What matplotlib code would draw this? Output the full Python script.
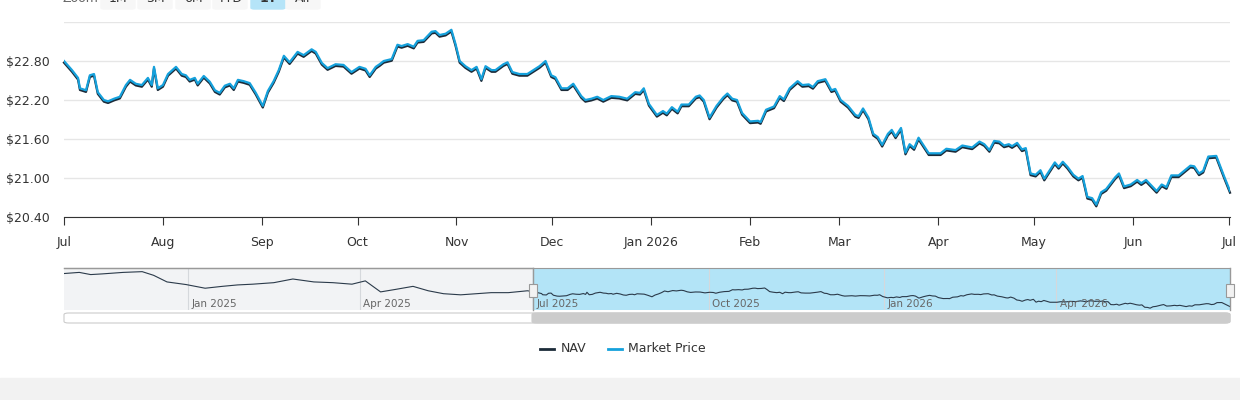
import matplotlib
matplotlib.use("Agg")
import matplotlib.pyplot as plt
import matplotlib.dates as mdates
import matplotlib.transforms as mtrans
from matplotlib.patches import Rectangle, FancyBboxPatch
import pandas as pd
import numpy as np

start = pd.Timestamp("2025-07-01")
# days since 2025-07-01 and values
days = [0,2.5,4.4,5.0,6.9,8.1,9.4,10.6,12.5,13.8,15.7,17.5,19.4,20.7,22.5,24.4,26.3,27.5,28.2,29.4,31.0,32.6,35.1,36.9,38.2,39.4,41.0,41.9,43.8,45.7,47.3,48.8,50.4,52.0,53.2,54.5,56.3,58.2,60.1,62.3,63.9,65.7,67.3,68.9,70.7,73.2,75.1,77.6,78.9,80.8,82.6,85.1,87.6,90.1,92.6,94.5,95.8,97.7,98.9,100.2,102.7,104.5,105.8,107.7,109.6,110.8,112.7,115.2,116.4,117.7,119.6,121.4,122.7,124.0,125.8,127.7,129.3,130.8,132.1,134.0,135.2,137.7,139.0,140.5,142.7,145.2,147.1,149.0,150.9,152.7,154.0,155.9,157.8,159.6,162.1,163.4,165.3,167.1,169.0,171.5,
        174.0,176.5,179.0,180.5,181.7,183.3,185.8,187.7,188.9,190.5,192.3,193.5,195.8,198.0,199.2,200.5,202.3,204.5,206.6,207.9,209.4,210.9,212.5,215.0,217.5,218.3,220.0,222.5,224.3,225.6,227.4,229.9,231.4,233.4,234.7,236.2,238.6,240.5,241.7,243.4,245.7,248.0,249.0,250.4,252.1,253.6,255.0,256.4,258.2,259.4,260.6,262.3,263.7,265.0,266.4,267.8,271.0,274.7,276.5,279.4,281.5,284.6,286.9,288.4,290.0,291.5,293.1,294.6,296.1,297.1,298.7,300.2,301.4,302.9,304.5,306.0,307.2,310.5,311.7,313.0,314.5,316.3,317.9,319.2,320.7,322.2,323.5,325.0,326.6,329.4,330.6,332.2,334.3,336.3,337.6,339.1,342.4,344.0,345.5,347.0,349.3,353.0,354.2,355.7,357.0,358.6,361.1,363.6,365.4]
market_price = [22.80,22.66,22.54,22.38,22.35,22.58,22.60,22.32,22.20,22.18,22.22,22.25,22.43,22.51,22.45,22.43,22.54,22.43,22.71,22.38,22.43,22.60,22.71,22.60,22.58,22.51,22.54,22.45,22.57,22.48,22.35,22.31,22.42,22.45,22.38,22.51,22.49,22.46,22.31,22.11,22.34,22.49,22.66,22.88,22.78,22.94,22.89,22.98,22.94,22.77,22.69,22.75,22.74,22.63,22.71,22.68,22.58,22.71,22.75,22.80,22.83,23.05,23.03,23.06,23.02,23.11,23.12,23.25,23.26,23.20,23.22,23.28,23.06,22.80,22.72,22.66,22.71,22.52,22.72,22.66,22.66,22.75,22.78,22.63,22.60,22.60,22.66,22.72,22.80,22.58,22.55,22.38,22.38,22.45,22.26,22.20,22.22,22.25,22.20,22.26,
                22.25,22.22,22.32,22.31,22.38,22.14,21.97,22.03,21.99,22.09,22.02,22.13,22.13,22.25,22.27,22.20,21.93,22.11,22.24,22.30,22.22,22.20,22.00,21.87,21.88,21.86,22.05,22.10,22.26,22.21,22.38,22.49,22.43,22.44,22.40,22.49,22.52,22.35,22.37,22.20,22.11,21.97,21.95,22.07,21.93,21.68,21.63,21.51,21.68,21.74,21.64,21.77,21.39,21.52,21.46,21.62,21.38,21.38,21.45,21.43,21.50,21.47,21.56,21.52,21.43,21.57,21.56,21.50,21.52,21.49,21.54,21.44,21.46,21.07,21.05,21.12,20.99,21.24,21.17,21.25,21.17,21.05,20.99,21.03,20.71,20.69,20.59,20.78,20.83,21.01,21.07,20.87,20.90,20.97,20.92,20.97,20.80,20.90,20.86,21.04,21.04,21.19,21.18,21.07,21.11,21.33,21.34,21.02,20.80]
nav = list(market_price)

hist_dates = ["2024-10-28","2024-11-05","2024-11-11","2024-11-17","2024-11-28","2024-12-08","2024-12-14","2024-12-21","2024-12-31","2025-01-10","2025-01-19","2025-01-27","2025-02-04","2025-02-15","2025-02-25","2025-03-08","2025-03-18","2025-03-28","2025-04-04","2025-04-12","2025-04-20","2025-04-29","2025-05-07","2025-05-15","2025-05-24","2025-06-01","2025-06-09","2025-06-18","2025-06-28"]
hist_nav = [25.21,25.36,25.07,25.16,25.36,25.46,24.97,24.09,23.74,23.25,23.50,23.69,23.79,23.99,24.48,24.09,23.99,23.79,24.23,22.76,23.10,23.50,22.91,22.52,22.37,22.52,22.66,22.66,22.91]

y_ticks = [20.40, 21.00, 21.60, 22.20, 22.80, 23.40]
month_labels = ["Jul","Aug","Sep","Oct","Nov","Dec","Jan 2026","Feb","Mar","Apr","May","Jun","Jul"]
nav_labels = ["Jan 2025","Apr 2025","Jul 2025","Oct 2025","Jan 2026","Apr 2026"]

dates = start + pd.to_timedelta(days, unit="D")
end = dates[-1]

W, H = 1240, 400
fig = plt.figure(figsize=(12.4, 4.0), dpi=100)
fig.patch.set_facecolor("white")
def box(l, t, r, b):
    return [l / W, 1 - b / H, (r - l) / W, (b - t) / H]

# bottom grey band
fig.patches.append(Rectangle((0, 0), 1, 22 / H, transform=fig.transFigure, color="#f2f2f2", zorder=0))

ax = fig.add_axes(box(64, 22, 1230, 217))
ax.set_ylim(20.40, 23.40)
ax.set_xlim(start, end)
ax.set_yticks(y_ticks)
ax.set_yticklabels([f"${v:.2f}" if v < 23.3 else "" for v in y_ticks])
ax.yaxis.grid(True, color="#e6e6e6", lw=1)
ax.set_axisbelow(True)
for s in ["top", "right", "left"]:
    ax.spines[s].set_visible(False)
ax.spines["bottom"].set_color("#333333")
ax.tick_params(axis="y", length=0, labelsize=9, colors="#333333", pad=10)
mticks = pd.date_range("2025-07-01", "2026-07-01", freq="MS")
ax.set_xticks(mticks)
ax.set_xticklabels(month_labels)
ax.tick_params(axis="x", length=6, color="#333333", labelsize=9, colors="#333333", pad=8)
off = mtrans.offset_copy(ax.transData, fig=fig, x=0, y=-1.2, units="points")
ax.plot(dates, nav, color="#1c2b39", lw=1.6, transform=off, clip_on=False)
ax.plot(dates, market_price, color="#15a1dc", lw=1.6)

# zoom buttons (cut off at top)
for txt, x, active in [("Zoom", 80, None), ("1M", 118, False), ("3M", 155, False), ("6M", 193, False), ("YTD", 230, False), ("1Y", 268, True), ("All", 303, False)]:
    if active is None:
        fig.text(x / W, 1 + 1 / H, txt, ha="center", va="center", fontsize=9, color="#666666")
    else:
        fig.patches.append(FancyBboxPatch(((x - 17) / W, 1 - 9 / H), 34 / W, 20 / H, boxstyle="round,pad=0,rounding_size=0.003",
                                          transform=fig.transFigure, color="#b5e4f8" if active else "#f7f7f7", zorder=1))
        fig.text(x / W, 1 + 1 / H, txt, ha="center", va="center", fontsize=9, color="#333333", fontweight="bold" if active else "normal")

# navigator
nx = fig.add_axes(box(64, 268, 1230, 310))
all_dates = list(pd.to_datetime(hist_dates)) + list(dates)
all_nav = hist_nav + nav
nstart = pd.Timestamp(hist_dates[0])
nx.set_xlim(nstart, end)
lo, hi = min(all_nav), max(all_nav)
nx.set_ylim(lo - 0.05 * (hi - lo), hi + 0.1 * (hi - lo))
nx.set_facecolor("#f2f3f5")
nx.axvspan(start, end, color="#b3e4f7", alpha=1, zorder=0)
nx.plot(all_dates, all_nav, color="#2b3a4a", lw=0.8, zorder=3)
nt = pd.to_datetime(["2025-01-01", "2025-04-01", "2025-07-01", "2025-10-01", "2026-01-01", "2026-04-01"])
for d, lab in zip(nt, nav_labels):
    nx.axvline(d, color="#d5d8dc", lw=0.8, zorder=1)
    nx.text(d + pd.Timedelta(days=2), lo - 0.02 * (hi - lo), lab, fontsize=7.5, color="#666666", va="bottom", ha="left", zorder=4)
nx.set_xticks([]); nx.set_yticks([])
for s in nx.spines.values():
    s.set_visible(False)
nx.spines["top"].set_visible(True); nx.spines["top"].set_color("#999999")
nx.plot([nstart, start], [nx.get_ylim()[1]] * 2, color="#999999", lw=1, clip_on=False)
for d in [start, end]:
    nx.plot([d, d], list(nx.get_ylim()), color="#999999", lw=1, clip_on=False, zorder=5)
    nx.add_patch(Rectangle((mdates.date2num(d) - 2, lo + 0.3 * (hi - lo)), 4, 0.35 * (hi - lo), facecolor="#f2f2f2", edgecolor="#999999", lw=0.8, zorder=6, clip_on=False))

# scrollbar
fig.patches.append(FancyBboxPatch((64 / W, 1 - 323 / H), 1166 / W, 10 / H, boxstyle="round,pad=0,rounding_size=0.004",
                                  transform=fig.transFigure, facecolor="white", edgecolor="#cccccc", lw=0.8))
fig.patches.append(FancyBboxPatch((532 / W, 1 - 323 / H), 698 / W, 10 / H, boxstyle="round,pad=0,rounding_size=0.004",
                                  transform=fig.transFigure, facecolor="#cccccc", edgecolor="#cccccc", lw=0.8))

# legend
y = 1 - 349 / H
fig.lines.append(plt.Line2D([540 / W, 554 / W], [y, y], transform=fig.transFigure, color="#1c2b39", lw=2))
fig.text(561 / W, y, "NAV", fontsize=9, va="center", color="#333333")
fig.lines.append(plt.Line2D([608 / W, 622 / W], [y, y], transform=fig.transFigure, color="#15a1dc", lw=2))
fig.text(628 / W, y, "Market Price", fontsize=9, va="center", color="#333333")

fig.savefig("out.png", dpi=100)
